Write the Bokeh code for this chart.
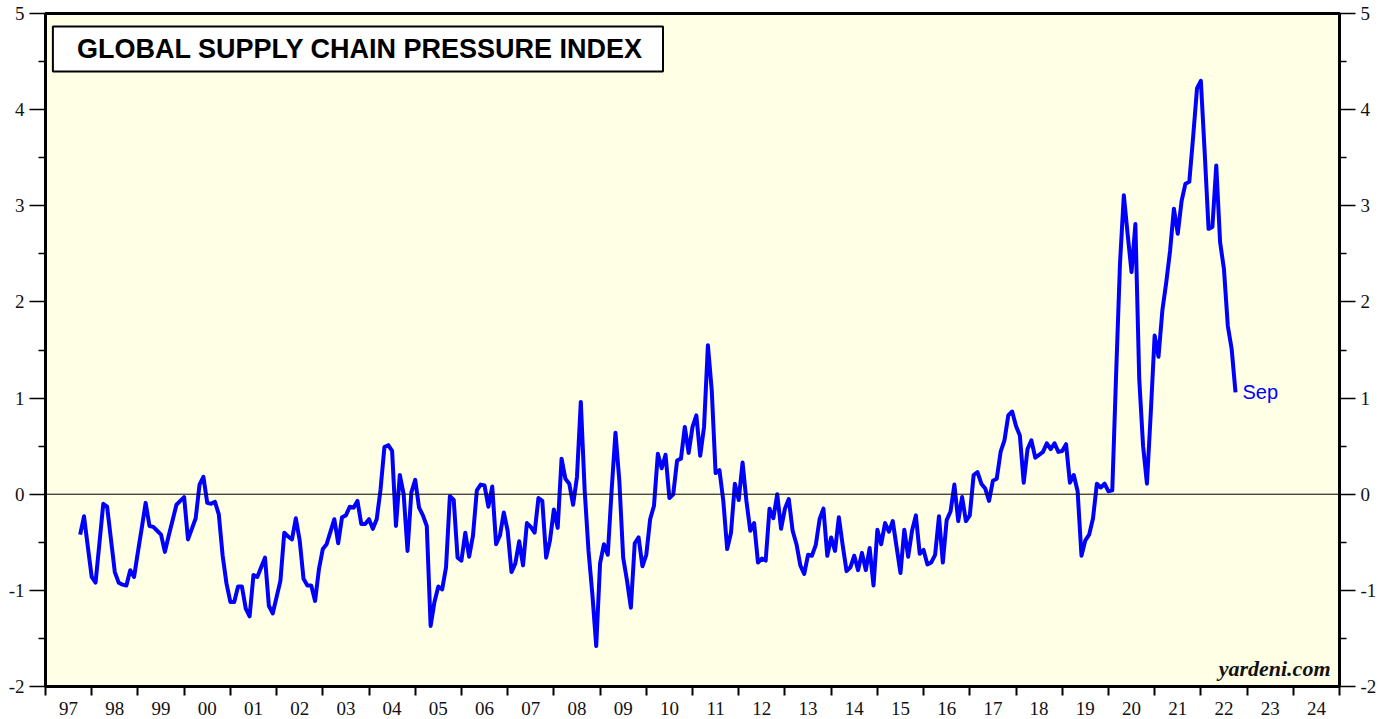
from bokeh.plotting import figure
from bokeh.models import Range1d, LinearAxis, FixedTicker, Span, Label
from bokeh.embed import file_html
from bokeh.resources import INLINE

# ---- data (monthly, Sep 1997 .. Sep 2022) ----
start_year, start_month = 1997, 9
gscpi = [
    -0.42, -0.23, -0.55, -0.86, -0.92, -0.51, -0.10, -0.13, -0.47, -0.81,
    -0.92, -0.94, -0.95, -0.79, -0.86, -0.60, -0.35, -0.09, -0.33, -0.34,
    -0.38, -0.42, -0.60, -0.43, -0.27, -0.11, -0.07, -0.03, -0.47, -0.36,
    -0.25, 0.10, 0.18, -0.09, -0.10, -0.08, -0.21, -0.64, -0.93, -1.12,
    -1.12, -0.96, -0.96, -1.19, -1.27, -0.84, -0.86, -0.76, -0.66, -1.16,
    -1.24, -1.07, -0.90, -0.40, -0.44, -0.47, -0.25, -0.48, -0.88, -0.95,
    -0.95, -1.11, -0.78, -0.57, -0.52, -0.39, -0.26, -0.51, -0.24, -0.22,
    -0.13, -0.14, -0.07, -0.31, -0.31, -0.26, -0.36, -0.26, 0.05, 0.49,
    0.51, 0.45, -0.33, 0.20, 0.00, -0.59, 0.02, 0.15, -0.14, -0.22,
    -0.33, -1.37, -1.12, -0.96, -0.99, -0.76, -0.02, -0.06, -0.66, -0.69,
    -0.40, -0.65, -0.43, 0.04, 0.10, 0.09, -0.13, 0.08, -0.52, -0.43,
    -0.19, -0.38, -0.81, -0.72, -0.49, -0.74, -0.30, -0.34, -0.40, -0.04,
    -0.07, -0.66, -0.48, -0.16, -0.35, 0.37, 0.16, 0.11, -0.11, 0.18,
    0.96, 0.04, -0.59, -1.04, -1.58, -0.72, -0.52, -0.63, 0.04, 0.64,
    0.14, -0.66, -0.90, -1.18, -0.51, -0.45, -0.75, -0.63, -0.26, -0.12,
    0.42, 0.27, 0.41, -0.04, 0.00, 0.35, 0.37, 0.70, 0.43, 0.70,
    0.82, 0.40, 0.70, 1.55, 1.08, 0.22, 0.25, -0.07, -0.57, -0.40,
    0.11, -0.06, 0.33, -0.07, -0.38, -0.30, -0.71, -0.67, -0.69, -0.15,
    -0.25, 0.00, -0.36, -0.15, -0.05, -0.38, -0.52, -0.74, -0.83, -0.63,
    -0.64, -0.53, -0.26, -0.15, -0.64, -0.45, -0.59, -0.24, -0.53, -0.80,
    -0.76, -0.64, -0.79, -0.61, -0.79, -0.56, -0.95, -0.37, -0.52, -0.30,
    -0.39, -0.28, -0.55, -0.82, -0.37, -0.65, -0.38, -0.22, -0.62, -0.58,
    -0.73, -0.71, -0.63, -0.23, -0.71, -0.27, -0.18, 0.10, -0.28, -0.03,
    -0.28, -0.22, 0.20, 0.23, 0.11, 0.06, -0.07, 0.14, 0.16, 0.44,
    0.56, 0.82, 0.86, 0.71, 0.61, 0.12, 0.47, 0.56, 0.38, 0.41,
    0.44, 0.53, 0.47, 0.53, 0.44, 0.45, 0.52, 0.12, 0.20, 0.03,
    -0.64, -0.48, -0.42, -0.25, 0.11, 0.07, 0.11, 0.03, 0.04, 1.25,
    2.40, 3.11, 2.70, 2.31, 2.81, 1.20, 0.50, 0.11, 0.85, 1.65,
    1.43, 1.91, 2.20, 2.53, 2.97, 2.71, 3.05, 3.23, 3.25, 3.72,
    4.22, 4.30, 3.55, 2.76, 2.78, 3.42, 2.62, 2.34, 1.75, 1.51,
    1.06,
]
last_label = "Sep"
title_text = "GLOBAL SUPPLY CHAIN PRESSURE INDEX"
source_text = "yardeni.com"
years = list(range(1997, 2025))
year_labels = [f"{y % 100:02d}" for y in years]
y_major = [-2, -1, 0, 1, 2, 3, 4, 5]
y_minor = [-1.5, -0.5, 0.5, 1.5, 2.5, 3.5, 4.5]

# month-end positions in fractional years
dates = [start_year + (start_month + i) / 12 for i in range(len(gscpi))]

p = figure(width=1390, height=719,
           x_range=Range1d(years[0], years[-1] + 1),
           y_range=Range1d(y_major[0], y_major[-1]),
           output_backend="svg", toolbar_location=None,
           min_border_left=45, min_border_right=51,
           min_border_top=13, min_border_bottom=33)
p.background_fill_color = "#FFFFE6"
p.border_fill_color = "white"
p.outline_line_color = "black"
p.outline_line_width = 3
p.xgrid.visible = False
p.ygrid.visible = False

serif = "Liberation Serif"

# bottom axis: labels centred in each year, ticks on year boundaries
xa = p.xaxis[0]
xa.ticker = FixedTicker(ticks=[y + 0.5 for y in years],
                        minor_ticks=list(range(years[0], years[-1] + 2)))
xa.major_label_overrides = {y + 0.5: lab for y, lab in zip(years, year_labels)}
xa.major_tick_out = 0
xa.major_tick_in = 0
xa.minor_tick_out = 9
xa.minor_tick_in = 0
xa.minor_tick_line_width = 2
xa.minor_tick_line_color = "black"
xa.axis_line_width = 3
xa.axis_line_color = "black"
xa.major_label_standoff = 6
xa.major_label_text_font = serif
xa.major_label_text_font_size = "19px"
xa.major_label_text_color = "#111111"

def style_y(ax):
    ax.ticker = FixedTicker(ticks=y_major, minor_ticks=y_minor)
    ax.major_label_overrides = {v: str(v) for v in y_major}
    ax.major_tick_out = 16
    ax.major_tick_in = 0
    ax.major_tick_line_width = 1.5
    ax.minor_tick_out = 7
    ax.minor_tick_in = 0
    ax.minor_tick_line_width = 1.5
    ax.axis_line_width = 3
    ax.axis_line_color = "black"
    ax.major_label_standoff = 5
    ax.major_label_text_font = serif
    ax.major_label_text_font_size = "19px"
    ax.major_label_text_color = "#111111"

style_y(p.yaxis[0])
ra = LinearAxis()
style_y(ra)
p.add_layout(ra, "right")

p.add_layout(Span(location=0, dimension="width", line_color="black", line_width=1))

p.line(dates, gscpi, line_color="#0000FF", line_width=4, line_join="round")

p.add_layout(Label(x=dates[-1], y=gscpi[-1], x_offset=7, text=last_label,
                   text_color="#0000FF", text_font="Liberation Sans",
                   text_font_size="20px", text_baseline="middle", text_align="left"))

# padding given as (left, right, top, bottom)
p.add_layout(Label(x=1997.16, y=4.865, text=title_text,
                   text_font="Liberation Sans", text_font_style="bold",
                   text_font_size="27px", text_color="black",
                   text_align="left", text_baseline="top",
                   background_fill_color="white", border_line_color="black",
                   border_line_width=2, padding=(24, 20, 8, 7)))

p.add_layout(Label(x=years[-1] + 1, y=y_major[0], x_offset=-9, y_offset=6,
                   text=source_text, text_font=serif,
                   text_font_style="bold italic", text_font_size="22px",
                   text_color="#111111", text_align="right", text_baseline="bottom"))

open("out.html", "w").write(file_html(p, INLINE))
